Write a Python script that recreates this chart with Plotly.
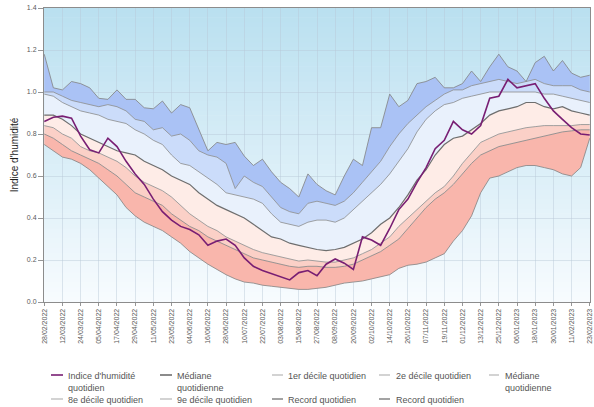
import plotly.graph_objects as go
import pandas as pd

# ---------------- data (one value every 6 days) ----------------
START_DATE = "2022-02-28"
N_POINTS = 61
STEP = "6D"
DATES = pd.date_range(START_DATE, periods=N_POINTS, freq=STEP)

TICK_LABELS = ["28/02/2022", "12/03/2022", "24/03/2022", "05/04/2022", "17/04/2022",
               "29/04/2022", "11/05/2022", "23/05/2022", "04/06/2022", "16/06/2022",
               "28/06/2022", "10/07/2022", "22/07/2022", "03/08/2022", "15/08/2022",
               "27/08/2022", "08/09/2022", "20/09/2022", "02/10/2022", "14/10/2022",
               "26/10/2022", "07/11/2022", "19/11/2022", "01/12/2022", "13/12/2022",
               "25/12/2022", "06/01/2023", "18/01/2023", "30/01/2023", "11/02/2023",
               "23/02/2023"]

Y_TICKS = [0.0, 0.2, 0.4, 0.6, 0.8, 1.0, 1.2, 1.4]

indice = [0.86, 0.88, 0.885, 0.875, 0.79, 0.725, 0.71, 0.78, 0.74, 0.67,
          0.61, 0.56, 0.49, 0.43, 0.39, 0.36, 0.345, 0.32, 0.27, 0.29,
          0.30, 0.27, 0.21, 0.17, 0.15, 0.135, 0.12, 0.105, 0.14, 0.15,
          0.125, 0.18, 0.205, 0.185, 0.155, 0.31, 0.295, 0.27, 0.35, 0.44,
          0.49, 0.57, 0.64, 0.73, 0.77, 0.86, 0.82, 0.80, 0.84, 0.97,
          0.98, 1.06, 1.02, 1.03, 1.04, 0.97, 0.91, 0.87, 0.83, 0.80, 0.795]

record_max = [1.18, 1.02, 1.01, 1.05, 1.04, 1.02, 0.97, 0.965, 1.01, 0.965,
              0.965, 0.925, 0.92, 0.957, 0.90, 0.94, 0.925, 0.82, 0.72, 0.76,
              0.75, 0.76, 0.695, 0.65, 0.68, 0.62, 0.57, 0.54, 0.50, 0.61,
              0.56, 0.53, 0.51, 0.60, 0.68, 0.65, 0.83, 0.83, 0.99, 0.93,
              0.96, 1.04, 1.05, 1.07, 1.02, 1.02, 1.04, 1.10, 1.05, 1.12,
              1.18, 1.12, 1.10, 1.05, 1.14, 1.17, 1.10, 1.15, 1.09, 1.07, 1.08]

decile9 = [1.00, 1.00, 0.98, 0.96, 0.95, 0.94, 0.93, 0.94, 0.93, 0.91,
           0.87, 0.86, 0.82, 0.83, 0.79, 0.80, 0.77, 0.72, 0.70, 0.69,
           0.66, 0.54, 0.60, 0.57, 0.55, 0.50, 0.45, 0.43, 0.42, 0.47,
           0.48, 0.47, 0.46, 0.48, 0.52, 0.57, 0.62, 0.67, 0.74, 0.80,
           0.85, 0.89, 0.93, 0.96, 0.99, 1.01, 1.01, 1.03, 1.04, 1.05,
           1.06, 1.05, 1.04, 1.05, 1.06, 1.04, 1.03, 1.03, 1.03, 1.01, 1.00]

decile8 = [0.99, 0.98, 0.95, 0.93, 0.91, 0.90, 0.89, 0.87, 0.86, 0.85,
           0.82, 0.80, 0.77, 0.75, 0.70, 0.66, 0.65, 0.62, 0.59, 0.56,
           0.52, 0.51, 0.50, 0.49, 0.47, 0.42, 0.38, 0.37, 0.36, 0.38,
           0.39, 0.39, 0.38, 0.40, 0.44, 0.48, 0.52, 0.56, 0.61, 0.67,
           0.73, 0.81, 0.87, 0.91, 0.94, 0.95, 0.97, 0.98, 0.99, 1.00,
           1.00, 1.00, 1.00, 1.00, 1.00, 0.99, 0.99, 0.98, 0.97, 0.96, 0.95]

mediane = [0.89, 0.89, 0.87, 0.84, 0.80, 0.78, 0.76, 0.74, 0.72, 0.71,
           0.70, 0.67, 0.65, 0.63, 0.60, 0.58, 0.56, 0.52, 0.49, 0.46,
           0.44, 0.42, 0.40, 0.37, 0.34, 0.31, 0.30, 0.28, 0.27, 0.26,
           0.25, 0.245, 0.25, 0.26, 0.28, 0.30, 0.33, 0.37, 0.40, 0.45,
           0.51, 0.58, 0.63, 0.70, 0.75, 0.78, 0.79, 0.82, 0.85, 0.89,
           0.91, 0.92, 0.93, 0.95, 0.95, 0.93, 0.92, 0.93, 0.91, 0.90, 0.89]

decile2 = [0.84, 0.83, 0.80, 0.78, 0.74, 0.72, 0.71, 0.69, 0.67, 0.64,
           0.60, 0.57, 0.55, 0.53, 0.50, 0.46, 0.42, 0.39, 0.36, 0.34,
           0.31, 0.29, 0.27, 0.25, 0.235, 0.225, 0.215, 0.205, 0.195, 0.20,
           0.195, 0.19, 0.19, 0.20, 0.21, 0.23, 0.25, 0.28, 0.31, 0.36,
           0.40, 0.44, 0.48, 0.52, 0.55, 0.60, 0.66, 0.71, 0.76, 0.78,
           0.80, 0.81, 0.82, 0.83, 0.835, 0.84, 0.84, 0.84, 0.84, 0.845, 0.845]

decile1 = [0.80, 0.78, 0.75, 0.72, 0.70, 0.68, 0.66, 0.63, 0.60, 0.56,
           0.52, 0.50, 0.48, 0.46, 0.42, 0.39, 0.36, 0.34, 0.31, 0.29,
           0.27, 0.25, 0.23, 0.21, 0.20, 0.19, 0.18, 0.17, 0.165, 0.17,
           0.17, 0.165, 0.165, 0.17, 0.18, 0.20, 0.22, 0.24, 0.27, 0.30,
           0.35, 0.40, 0.45, 0.49, 0.52, 0.56, 0.61, 0.66, 0.70, 0.72,
           0.74, 0.75, 0.76, 0.77, 0.78, 0.79, 0.80, 0.81, 0.815, 0.82, 0.82]

record_min = [0.75, 0.72, 0.69, 0.68, 0.66, 0.63, 0.59, 0.55, 0.51, 0.45,
              0.41, 0.38, 0.36, 0.34, 0.31, 0.28, 0.24, 0.21, 0.18, 0.155,
              0.13, 0.11, 0.095, 0.09, 0.08, 0.075, 0.07, 0.065, 0.06, 0.06,
              0.065, 0.07, 0.08, 0.09, 0.095, 0.10, 0.11, 0.12, 0.13, 0.16,
              0.175, 0.18, 0.19, 0.21, 0.23, 0.29, 0.34, 0.41, 0.52, 0.59,
              0.60, 0.62, 0.64, 0.65, 0.65, 0.64, 0.63, 0.61, 0.60, 0.64, 0.78]

# ---------------- figure ----------------
W, H = 594, 407
L, R, T, B = 44, 4, 8, 105
PW, PH = W - L - R, H - T - B

def px_x(px):
    return (px - L) / PW

def px_y(py):
    return (H - B - py) / PH

fig = go.Figure()

# bands from bottom to top: (series, name, fill colour, line colour, line width)
bands = [
    (record_min, "Record quotidien", None, "rgba(130,130,130,0.8)", 1),
    (decile1, "1er décile quotidien", "rgb(249,182,172)", "rgba(130,130,130,0.8)", 1),
    (decile2, "2e décile quotidien", "rgb(251,208,199)", "rgba(140,140,140,0.8)", 1),
    (mediane, "Médiane quotidienne", "rgb(254,236,231)", "rgb(110,110,110)", 1.2),
    (decile8, "8e décile quotidien", "rgb(233,241,252)", "rgba(140,140,140,0.8)", 1),
    (decile9, "9e décile quotidien", "rgb(203,220,250)", "rgba(140,140,140,0.8)", 1),
    (record_max, "Record quotidien", "rgb(170,194,245)", "rgba(130,130,130,0.8)", 1),
]
for vals, name, fillc, linec, lw in bands:
    fig.add_trace(go.Scatter(
        x=DATES, y=vals, name=name, mode="lines",
        line=dict(color=linec, width=lw),
        fill="tonexty" if fillc else None,
        fillcolor=fillc, showlegend=False, hoverinfo="skip"))

fig.add_trace(go.Scatter(
    x=DATES, y=indice, name="Indice d'humidité quotidien", mode="lines",
    line=dict(color="rgb(120,30,115)", width=1.6), showlegend=False))

# gradient plot background (light blue at top to near white at bottom)
shapes = []
n_grad = 60
top_c = (186, 224, 240)
bot_c = (247, 251, 254)
for k in range(n_grad):
    f = k / (n_grad - 1)
    c = tuple(round(bot_c[j] + (top_c[j] - bot_c[j]) * f) for j in range(3))
    shapes.append(dict(type="rect", xref="paper", yref="paper",
                       x0=0, x1=1, y0=k / n_grad, y1=(k + 1) / n_grad + 0.002,
                       fillcolor="rgb(%d,%d,%d)" % c, line=dict(width=0),
                       layer="below"))

# manual legend
legend_items = [
    (51, 63, 66, 375, "rgb(120,30,115)", "Indice d'humidité<br>quotidien"),
    (160, 172, 175, 375, "rgb(110,110,110)", "Médiane<br>quotidienne"),
    (272, 283, 286, 375, "rgb(200,200,200)", "1er décile quotidien"),
    (379, 390, 394, 375, "rgb(200,200,200)", "2e décile quotidien"),
    (489, 499, 503, 375, "rgb(200,200,200)", "Médiane<br>quotidienne"),
    (51, 63, 66, 399, "rgb(200,200,200)", "8e décile quotidien"),
    (160, 172, 175, 399, "rgb(200,200,200)", "9e décile quotidien"),
    (272, 283, 286, 399, "rgb(140,140,140)", "Record quotidien"),
    (379, 390, 394, 399, "rgb(140,140,140)", "Record quotidien"),
]
annotations = []
for x0, x1, xt, yl, col, txt in legend_items:
    shapes.append(dict(type="line", xref="paper", yref="paper",
                       x0=px_x(x0), x1=px_x(x1), y0=px_y(yl), y1=px_y(yl),
                       line=dict(color=col, width=1.6)))
    annotations.append(dict(xref="paper", yref="paper", x=px_x(xt), y=px_y(yl - 6),
                            xanchor="left", yanchor="top", align="left",
                            text=txt, showarrow=False,
                            font=dict(family="Liberation Sans, Arial", size=9,
                                      color="rgb(85,85,85)")))

fig.update_layout(
    width=W, height=H,
    margin=dict(l=L, r=R, t=T, b=B, autoexpand=False),
    paper_bgcolor="white",
    plot_bgcolor="rgb(247,251,254)",
    shapes=shapes, annotations=annotations,
    showlegend=False,
    font=dict(family="Liberation Sans, Arial", color="rgb(85,85,85)"),
)

fig.update_xaxes(
    type="date",
    range=["2022-02-27 20:00", "2023-02-23 04:00"],
    tickvals=pd.to_datetime(TICK_LABELS, format="%d/%m/%Y"),
    ticktext=TICK_LABELS,
    tickangle=-90,
    ticklabeloverflow="allow",
    tickfont=dict(size=7, color="rgb(90,90,90)"),
    ticks="outside", ticklen=3, tickcolor="rgb(150,150,150)",
    showgrid=True, gridcolor="rgba(185,200,215,0.45)", gridwidth=1,
    showline=True, linecolor="rgb(140,140,140)", linewidth=1, mirror=True,
    zeroline=False,
)
fig.update_yaxes(
    range=[0, 1.4],
    tickvals=Y_TICKS,
    tickformat=".1f",
    tickfont=dict(size=7, color="rgb(90,90,90)"),
    ticks="outside", ticklen=5, tickcolor="rgb(150,150,150)",
    showgrid=True, gridcolor="rgba(185,200,215,0.45)", gridwidth=1,
    showline=True, linecolor="rgb(140,140,140)", linewidth=1, mirror=True,
    zeroline=False,
    title=dict(text="Indice d'humidité", standoff=6,
               font=dict(size=10, color="rgb(30,30,30)")),
)

fig.write_html("out.html",
               config={"displayModeBar": False},
               post_script="document.body.style.margin='0px';"
                           "document.body.style.overflow='hidden';")
